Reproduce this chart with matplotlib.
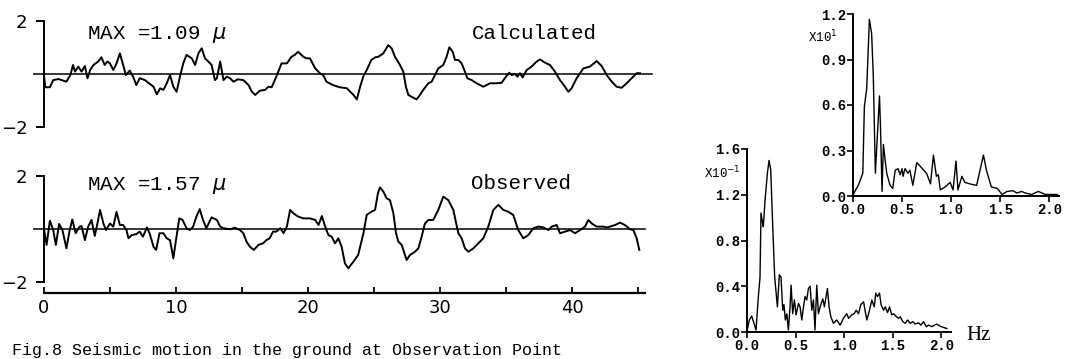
import numpy as np
import matplotlib.pyplot as plt

# displacement traces (micron) against time (s)
calc_t = [0.0, 0.1, 0.45, 0.7, 1.1, 1.7, 2.0, 2.2, 2.35, 2.6, 2.85, 3.1, 3.3, 3.5, 3.75, 4.1,
          4.35, 4.6, 4.8, 5.0, 5.25, 5.5, 5.75, 6.0, 6.2, 6.5, 6.75, 7.0, 7.25, 7.65, 7.9,
          8.3, 8.55, 8.8, 9.05, 9.3, 9.55, 9.8, 10.05, 10.3, 10.55, 10.8, 11.2, 11.45, 11.7,
          11.95, 12.2, 12.45, 12.7, 12.95, 13.1, 13.35, 13.6, 13.85, 14.1, 14.35, 14.7, 15.1,
          15.5, 15.75, 16.0, 16.35, 16.75, 17.0, 17.25, 17.6, 18.0, 18.4, 18.75, 19.0, 19.25,
          19.65, 19.9, 20.15, 20.55, 20.9, 21.15, 21.4, 21.9, 22.4, 22.95, 23.2, 23.45, 23.7,
          23.95, 24.2, 24.45, 24.8, 25.1, 25.33, 25.71, 26.08, 26.34, 26.59, 26.97, 27.22,
          27.42, 27.6, 27.85, 28.23, 28.48, 28.73, 29.12, 29.37, 29.62, 29.87, 30.25, 30.5,
          30.71, 30.96, 31.14, 31.39, 31.64, 31.89, 32.07, 32.4, 32.78, 33.28, 33.79, 34.29,
          34.67, 35.0, 35.25, 35.43, 35.68, 35.86, 36.06, 36.26, 36.57, 36.94, 37.32, 37.58,
          37.95, 38.33, 38.71, 39.09, 39.47, 39.72, 39.97, 40.35, 40.86, 41.36, 41.87, 42.25,
          42.63, 43.01, 43.38, 43.76, 44.14, 44.52, 44.9, 45.15]
calc_v = [-0.05, -0.5, -0.5, -0.23, -0.19, -0.29, -0.04, 0.34, 0.09, 0.28, 0.09, 0.3, -0.16,
          0.15, 0.34, 0.47, 0.63, 0.34, 0.47, 0.4, 0.15, 0.4, 0.78, 0.34, -0.04, 0.13, -0.1,
          -0.42, -0.16, -0.23, -0.33, -0.48, -0.77, -0.54, -0.6, -0.35, -0.04, -0.48, -0.67,
          -0.1, 0.4, 0.72, 0.59, 0.34, 0.78, 0.97, 0.59, 0.47, 0.34, -0.23, -0.16, 0.47, -0.23,
          -0.1, -0.16, -0.29, -0.2, -0.23, -0.42, -0.67, -0.79, -0.63, -0.6, -0.48, -0.5, -0.1,
          0.4, 0.4, 0.65, 0.72, 0.84, 0.65, 0.59, 0.59, 0.21, 0.03, -0.04, -0.29, -0.42, -0.5,
          -0.54, -0.67, -0.79, -0.96, -0.48, -0.08, 0.15, 0.53, 0.63, 0.65, 0.78, 1.09, 0.97,
          0.65, 0.34, 0.09, -0.48, -0.79, -0.86, -0.96, -0.79, -0.6, -0.35, -0.29, -0.04, 0.21,
          0.34, 0.65, 1.01, 0.84, 0.53, 0.53, 0.4, 0.09, -0.16, -0.23, -0.35, -0.48, -0.35,
          -0.35, -0.33, -0.1, 0.05, -0.04, 0.0, -0.1, 0.03, -0.13, 0.15, 0.28, 0.47, 0.55,
          0.43, 0.34, 0.09, -0.23, -0.48, -0.67, -0.54, -0.16, 0.21, 0.28, 0.49, 0.3, -0.04,
          -0.29, -0.48, -0.52, -0.35, -0.16, 0.03, 0.03]

obs_t = [0.0, 0.2, 0.45, 0.7, 0.9, 1.15, 1.4, 1.7, 1.95, 2.15, 2.4, 2.7, 2.85, 3.1, 3.35, 3.6,
         3.85, 4.05, 4.25, 4.5, 4.7, 5.0, 5.25, 5.5, 5.75, 6.0, 6.25, 6.4, 6.65, 7.0, 7.25,
         7.5, 7.8, 8.0, 8.3, 8.5, 8.75, 9.05, 9.3, 9.55, 9.8, 10.0, 10.25, 10.5, 10.8, 11.05,
         11.3, 11.55, 11.8, 12.05, 12.3, 12.7, 13.1, 13.35, 13.6, 14.1, 14.45, 14.85, 15.1,
         15.35, 15.6, 15.9, 16.25, 16.6, 16.85, 17.1, 17.35, 17.6, 17.9, 18.15, 18.4, 18.65,
         18.9, 19.25, 19.65, 20.15, 20.55, 20.8, 21.05, 21.3, 21.55, 21.8, 22.05, 22.3, 22.55,
         22.8, 23.05, 23.45, 23.8, 24.2, 24.45, 24.8, 25.08, 25.3, 25.45, 25.71, 25.96, 26.21,
         26.47, 26.67, 26.85, 27.1, 27.35, 27.47, 27.73, 28.1, 28.36, 28.61, 28.86, 29.12,
         29.49, 29.87, 30.25, 30.63, 31.01, 31.39, 31.64, 31.89, 32.15, 32.53, 32.9, 33.28,
         33.66, 34.04, 34.42, 34.8, 35.18, 35.55, 35.93, 36.31, 36.69, 37.07, 37.45, 37.83,
         38.21, 38.46, 38.84, 39.09, 39.47, 39.85, 40.23, 40.61, 40.98, 41.24, 41.49, 41.87,
         42.37, 42.63, 42.88, 43.26, 43.64, 44.01, 44.39, 44.65, 44.9, 45.1]
obs_v = [0.0, -0.6, 0.31, -0.04, -0.6, 0.19, -0.04, -0.73, -0.04, 0.36, -0.16, 0.09, 0.11,
         -0.42, 0.09, 0.34, -0.26, 0.21, 0.72, 0.21, -0.04, 0.21, 0.09, 0.65, 0.15, 0.15,
         -0.04, -0.35, -0.23, -0.19, -0.1, -0.29, 0.06, -0.16, -0.67, -0.79, -0.16, -0.16,
         -0.35, -0.42, -1.11, -0.42, 0.4, 0.34, 0.03, -0.04, 0.09, 0.47, 0.75, 0.34, 0.03,
         0.44, 0.34, 0.09, 0.03, -0.01, 0.05, -0.04, -0.16, -0.48, -0.67, -0.79, -0.6, -0.54,
         -0.42, -0.35, -0.1, -0.1, 0.03, -0.16, 0.09, 0.72, 0.59, 0.47, 0.4, 0.4, 0.34, 0.15,
         0.49, 0.09, -0.23, -0.29, -0.54, -0.35, -0.67, -1.3, -1.48, -1.23, -0.98, -0.16, 0.53,
         0.65, 0.72, 1.35, 1.57, 1.41, 1.16, 1.09, 0.59, -0.16, -0.48, -0.6, -0.98, -1.17,
         -0.98, -0.86, -0.73, -0.29, 0.21, 0.34, 0.34, 0.72, 1.22, 1.09, 0.72, -0.16, -0.35,
         -0.73, -0.86, -0.73, -0.54, -0.35, 0.09, 0.72, 0.91, 0.72, 0.65, 0.53, -0.04, -0.35,
         -0.23, 0.03, 0.09, 0.06, -0.04, 0.09, 0.15, -0.16, -0.1, -0.04, -0.16, -0.04, 0.09,
         0.34, 0.21, 0.09, 0.09, 0.06, 0.09, 0.15, 0.24, 0.15, -0.01, -0.04, -0.35, -0.79]

# Fourier spectra: frequency (Hz) and amplitude
calc_f = [0.0, 0.01, 0.054, 0.1, 0.116, 0.14, 0.167, 0.19, 0.207, 0.228, 0.27, 0.28, 0.296,
          0.31, 0.327, 0.344, 0.378, 0.405, 0.43, 0.46, 0.48, 0.5, 0.51, 0.53, 0.56, 0.58,
          0.61, 0.65, 0.68, 0.72, 0.75, 0.79, 0.82, 0.85, 0.87, 0.89, 0.94, 0.99, 1.02, 1.05,
          1.07, 1.11, 1.14, 1.19, 1.26, 1.33, 1.36, 1.41, 1.47, 1.52, 1.57, 1.63, 1.67, 1.72,
          1.755, 1.82, 1.89, 1.96, 2.03, 2.085]
calc_amp = [0.0, 0.02, 0.07, 0.15, 0.59, 0.71, 1.165, 1.07, 0.79, 0.15, 0.66, 0.46, 0.03,
            0.34, 0.24, 0.15, 0.07, 0.05, 0.17, 0.18, 0.14, 0.18, 0.13, 0.18, 0.15, 0.17, 0.07,
            0.22, 0.2, 0.17, 0.15, 0.08, 0.27, 0.13, 0.14, 0.04, 0.06, 0.09, 0.04, 0.23, 0.04,
            0.13, 0.09, 0.08, 0.07, 0.27, 0.17, 0.06, 0.05, 0.01, 0.03, 0.035, 0.02, 0.03,
            0.02, 0.01, 0.03, 0.01, 0.01, 0.01]

obs_f = [0.003, 0.024, 0.048, 0.072, 0.093, 0.117, 0.134, 0.144, 0.158, 0.168, 0.186, 0.21,
         0.227, 0.244, 0.265, 0.285, 0.3, 0.313, 0.333, 0.35, 0.368, 0.38, 0.395, 0.41, 0.426,
         0.443, 0.454, 0.47, 0.488, 0.505, 0.53, 0.546, 0.564, 0.58, 0.598, 0.615, 0.632, 0.65,
         0.667, 0.684, 0.7, 0.718, 0.735, 0.753, 0.78, 0.797, 0.814, 0.828, 0.845, 0.863, 0.89,
         0.924, 0.959, 0.993, 1.027, 1.045, 1.079, 1.103, 1.124, 1.148, 1.172, 1.2, 1.217,
         1.234, 1.261, 1.285, 1.31, 1.326, 1.344, 1.364, 1.38, 1.405, 1.423, 1.447, 1.467,
         1.49, 1.51, 1.536, 1.56, 1.577, 1.605, 1.63, 1.653, 1.68, 1.708, 1.73, 1.766, 1.79,
         1.818, 1.845, 1.87, 1.904, 1.95, 1.99, 2.024, 2.058]
obs_amp = [0.02, 0.105, 0.14, 0.076, 0.017, 0.31, 0.48, 1.04, 0.965, 0.92, 1.155, 1.39, 1.5,
           1.42, 0.92, 0.48, 0.34, 0.22, 0.5, 0.48, 0.19, 0.24, 0.105, 0.16, 0.017, 0.22, 0.41,
           0.16, 0.28, 0.15, 0.25, 0.22, 0.105, 0.21, 0.31, 0.28, 0.38, 0.4, 0.19, 0.28, 0.017,
           0.41, 0.16, 0.22, 0.29, 0.22, 0.31, 0.38, 0.22, 0.134, 0.076, 0.105, 0.06, 0.12,
           0.16, 0.12, 0.15, 0.16, 0.19, 0.16, 0.24, 0.265, 0.18, 0.105, 0.19, 0.28, 0.22,
           0.34, 0.31, 0.34, 0.24, 0.19, 0.22, 0.17, 0.22, 0.15, 0.16, 0.134, 0.12, 0.134,
           0.09, 0.076, 0.105, 0.076, 0.09, 0.07, 0.08, 0.06, 0.09, 0.047, 0.06, 0.047, 0.07,
           0.05, 0.04, 0.03]

W, H = 1073, 359
narrow = ['Liberation Sans Narrow', 'DejaVu Sans']
mono = ['Liberation Mono', 'DejaVu Sans Mono']

fig = plt.figure(figsize=(W / 100, H / 100), dpi=100)


def box(left, top, width, height):
    return [left / W, 1 - (top + height) / H, width / W, height / H]


def trace_axes(ax, t, v, zero_end, with_time_axis):
    ax.patch.set_visible(False)
    ax.plot(t, v, color='black', lw=1.4)
    ax.axhline(0, xmax=zero_end, color='black', lw=1.1)
    ax.set_xlim(-0.8, 47)
    ax.set_ylim(-2, 2)
    ax.spines[['top', 'right']].set_visible(False)
    ax.spines['left'].set_position(('data', 0))
    ax.spines['left'].set_bounds(-2, 2)
    ax.spines['left'].set_linewidth(1.4)
    ax.set_yticks([-2, 2])
    ax.set_yticklabels(['\u22122', '2'], family=narrow, fontsize=13)
    ax.tick_params(axis='y', direction='out', length=6, width=1.4, pad=6)
    if with_time_axis:
        sp = ax.spines['bottom']
        sp.set_position(('outward', 8))
        sp.set_bounds(0, 45.5)
        sp.set_linewidth(1.6)
        ax.set_xticks([0, 10, 20, 30, 40])
        ax.set_xticks([5, 15, 25, 35, 45], minor=True)
        ax.set_xticklabels(['0', '10', '20', '30', '40'], family=narrow, fontsize=13)
        ax.tick_params(axis='x', which='both', direction='in', length=4, width=1.3, pad=4)
    else:
        ax.spines['bottom'].set_visible(False)
        ax.set_xticks([])


ax_calc = fig.add_axes(box(33.4, 21, 631, 106))
trace_axes(ax_calc, calc_t, calc_v, 0.981, False)
ax_obs = fig.add_axes(box(33.4, 176, 631, 106))
trace_axes(ax_obs, obs_t, obs_v, 0.969, True)

fig.text(87 / W, 1 - 39 / H, r'MAX =1.09 $\mu$', family=mono, fontsize=15, va='baseline')
fig.text(472 / W, 1 - 39 / H, 'Calculated', family=mono, fontsize=15, va='baseline')
fig.text(87 / W, 1 - 190 / H, r'MAX =1.57 $\mu$', family=mono, fontsize=15, va='baseline')
fig.text(471 / W, 1 - 189 / H, 'Observed', family=mono, fontsize=15, va='baseline')


def spectrum_axes(ax, f, a, ymax, ystep):
    ax.patch.set_visible(False)
    ax.plot(f, a, color='black', lw=1.0)
    ax.set_xlim(0, 2.1)
    ax.set_ylim(0, ymax)
    ax.spines[['top', 'right']].set_visible(False)
    for s in ('left', 'bottom'):
        ax.spines[s].set_linewidth(1.4)
    yt = np.arange(0, ymax + 1e-9, ystep)
    ax.set_yticks(yt)
    ax.set_yticklabels(['%.1f' % y for y in yt], family=mono, fontsize=10, fontweight='bold')
    xt = [0, 0.5, 1.0, 1.5, 2.0]
    ax.set_xticks(xt)
    ax.set_xticklabels(['%.1f' % x for x in xt], family=mono, fontsize=10, fontweight='bold')
    ax.tick_params(direction='out', length=4, width=1.2, pad=1)


ax_sc = fig.add_axes(box(853, 14, 206, 182))
spectrum_axes(ax_sc, calc_f, calc_amp, 1.2, 0.3)
ax_so = fig.add_axes(box(747, 149, 204, 183))
spectrum_axes(ax_so, obs_f, obs_amp, 1.6, 0.4)

fig.text(837 / W, 1 - 37 / H, 'X10$^{1}$', family=mono, fontsize=9, ha='right', va='center')
fig.text(741 / W, 1 - 173 / H, 'X10$^{-1}$', family=mono, fontsize=9, ha='right', va='center')
fig.text(966 / W, 1 - 336 / H, 'Hz', family=['Liberation Serif', 'DejaVu Serif'],
         fontsize=15, va='center')

fig.text(12 / W, 1 / H, 'Fig.8 Seismic motion in the ground at Observation Point',
         family=mono, fontsize=12, va='bottom')

fig.savefig('out.png', dpi=100)
